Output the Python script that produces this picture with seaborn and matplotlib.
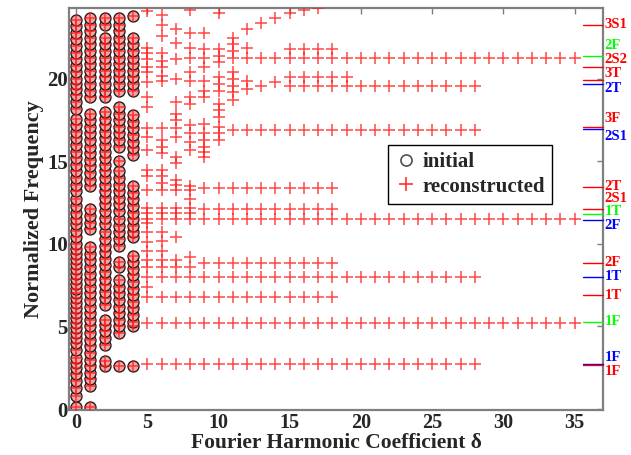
import matplotlib
matplotlib.use("Agg")
import matplotlib.pyplot as plt
from matplotlib.lines import Line2D
import seaborn as sns
import pandas as pd

# ------------------------------------------------------------------
#   data (delta = Fourier harmonic coefficient)
# ------------------------------------------------------------------

# initial frequencies, one list per delta (0..4)
init_d0 = [0.1, 0.8, 1.3, 1.7, 2.1, 2.5, 2.8, 3.1, 3.6, 4.0, 4.3, 4.6, 4.9, 5.2, 5.5, 5.8,
           6.1, 6.4, 6.7, 7.0, 7.3, 7.6, 7.9, 8.2, 8.5, 8.8, 9.1, 9.4, 9.7, 10.0, 10.4,
           10.8, 11.2, 11.5, 11.9, 12.3, 12.7, 13.2, 13.6, 14.0, 14.4, 14.8, 15.2, 15.6,
           16.0, 16.4, 16.8, 17.2, 17.6, 18.2, 18.6, 19.0, 19.4, 19.7, 20.0, 20.4, 20.8,
           21.2, 21.6, 22.0, 22.4, 22.8, 23.2, 23.6]
init_d1 = [0.1, 1.4, 1.8, 2.2, 2.6, 3.0, 3.4, 3.8, 4.2, 4.6, 5.0, 5.4, 5.8, 6.2, 6.6, 7.0,
           7.4, 7.8, 8.2, 8.6, 9.0, 9.4, 9.8, 10.9, 11.3, 11.7, 12.1, 13.5, 13.9, 14.3,
           14.7, 15.1, 15.5, 15.9, 16.3, 16.7, 17.1, 17.5, 17.9, 18.9, 19.3, 19.7, 20.1,
           20.5, 20.9, 21.3, 21.7, 22.1, 22.5, 22.9, 23.3, 23.7]
init_d2 = [2.6, 2.9, 3.9, 4.3, 4.7, 5.1, 5.4, 6.3, 6.7, 7.1, 7.5, 7.9, 8.3, 8.7, 9.1, 9.5,
           9.9, 10.3, 10.7, 11.2, 11.6, 12.0, 12.4, 12.8, 13.2, 13.6, 14.0, 14.4, 14.8,
           15.2, 15.6, 16.0, 16.4, 16.8, 17.2, 17.6, 18.0, 18.9, 19.3, 19.7, 20.1, 20.5,
           20.9, 21.3, 21.7, 22.1, 22.5, 23.3, 23.7]
init_d3 = [2.6, 4.6, 5.0, 5.4, 5.8, 6.2, 6.6, 7.0, 7.4, 7.8, 8.6, 8.9, 9.9, 10.3, 10.7,
           11.1, 11.5, 12.0, 12.4, 12.8, 13.2, 13.6, 14.0, 14.4, 15.0, 15.9, 16.3, 16.7,
           17.1, 17.5, 17.9, 18.3, 19.3, 19.7, 20.1, 20.5, 20.9, 21.3, 21.7, 22.1, 22.5,
           22.9, 23.3, 23.7]
init_d4 = [2.6, 5.0, 5.3, 5.7, 6.1, 6.5, 6.9, 7.3, 7.7, 8.1, 8.5, 8.9, 9.3, 10.4, 10.7,
           11.1, 11.5, 11.9, 12.3, 12.7, 13.1, 13.5, 15.4, 15.8, 16.2, 16.6, 17.0, 17.4,
           17.8, 19.3, 19.7, 20.1, 20.5, 20.9, 21.3, 21.7, 22.1, 22.5, 23.8]

# reconstructed frequencies for delta 5..19 (delta 0..4 coincide with the initial ones)
rec_d5 = [2.7, 5.2, 6.8, 7.4, 8.0, 8.6, 9.0, 9.6, 10.1, 10.7, 11.3, 11.5, 11.9, 12.2, 13.3,
          14.1, 14.5, 15.7, 16.5, 17.0, 18.3, 18.9, 19.8, 20.4, 20.7, 21.2, 21.6, 21.9, 24.1]
rec_d6 = [2.7, 5.2, 6.8, 8.0, 8.6, 9.0, 9.6, 10.2, 10.7, 11.5, 11.9, 12.2, 13.3, 13.7, 14.1,
          14.5, 15.5, 15.9, 16.3, 17.0, 19.9, 20.2, 20.7, 21.1, 21.6, 22.6, 23.3, 23.9]
rec_d7 = [2.7, 5.2, 6.8, 8.0, 8.6, 9.0, 10.4, 11.5, 11.9, 12.2, 13.3, 13.6, 13.9, 14.9, 15.3,
          16.5, 17.0, 17.5, 17.9, 18.6, 20.0, 21.2, 22.2, 23.0]
rec_d8 = [2.7, 5.2, 6.8, 8.0, 8.6, 9.2, 11.5, 11.9, 12.2, 12.7, 13.3, 13.5, 15.7, 16.2, 16.7,
          17.2, 18.5, 18.9, 19.9, 20.4, 21.3, 21.9, 22.8, 24.2]
rec_d9 = [2.7, 5.2, 6.8, 8.0, 8.85, 11.5, 12.1, 13.4, 15.3, 15.6, 15.9, 16.3, 16.7, 17.3,
          18.9, 19.3, 19.9, 20.7, 21.3, 21.8, 22.8]
rec_d10 = [2.7, 5.2, 6.8, 8.0, 8.85, 11.5, 12.1, 13.4, 16.3, 16.7, 17.1, 17.7, 18.1, 18.5,
           19.3, 19.7, 20.1, 21.0, 21.4, 21.8, 24.0]
rec_d11 = [2.7, 5.2, 6.8, 8.0, 8.85, 11.5, 12.1, 13.4, 16.9, 18.7, 19.2, 19.6, 20.0, 20.4,
           21.3, 21.7, 22.1, 22.5]
rec_d12 = [2.7, 5.2, 6.8, 8.0, 8.85, 11.5, 12.1, 13.4, 16.9, 19.4, 19.9, 21.3, 21.9, 23.0]
rec_d13 = [2.7, 5.2, 6.8, 8.0, 8.85, 11.5, 12.1, 13.4, 16.9, 19.6, 21.3, 23.4]
rec_d14 = [2.7, 5.2, 6.8, 8.0, 8.85, 11.5, 12.1, 13.4, 16.9, 19.8, 21.3, 23.7]
rec_d15 = [2.7, 5.2, 6.8, 8.0, 8.85, 11.5, 12.1, 13.4, 16.9, 19.6, 20.1, 21.3, 21.8, 24.0]
rec_d16 = [2.7, 5.2, 6.8, 8.0, 8.85, 11.5, 12.1, 13.4, 16.9, 19.6, 20.1, 21.3, 21.8, 24.15]
rec_d17 = [2.7, 5.2, 6.8, 8.0, 8.85, 11.5, 12.1, 13.4, 16.9, 19.6, 20.1, 21.3, 21.8, 24.3]
rec_d18 = [2.7, 5.2, 6.8, 8.0, 8.85, 11.5, 12.1, 13.4, 16.9, 19.6, 20.1, 21.3, 21.8]
rec_d19 = [2.7, 5.2, 8.0, 11.5, 16.9, 19.6, 20.1, 21.3]

# converged rows for delta >= 20 : frequency and last delta where it still appears
conv_freq = [2.7, 5.2, 8.0, 11.5, 16.9, 19.6, 21.3]
conv_last = [28, 35, 28, 35, 28, 28, 35]
DELTA_MAX = 35

# normal modes marked on the right border
mode_freq = [23.3, 21.4, 20.7, 19.95, 19.7, 17.1, 16.95, 13.45, 12.1, 11.8, 11.45,
             8.85, 8.0, 6.9, 5.3, 2.75, 2.65]
mode_label = ["3S1", "2F", "2S2", "3T", "2T", "3F", "2S1", "2T", "2S1", "1T", "2F",
              "2F", "1T", "1T", "1F", "1F", "1F"]
mode_color = ["red", "lime", "red", "red", "blue", "red", "blue", "red", "red", "lime", "blue",
              "red", "blue", "red", "lime", "blue", "red"]
mode_text_y = [23.3, 22.05, 21.2, 20.35, 19.45, 17.6, 16.5, 13.5, 12.75, 11.95, 11.1,
               8.85, 8.0, 6.9, 5.3, 3.15, 2.25]


# --------------------------------------------------------
#       BUILD THE FRAMES
# --------------------------------------------------------

init_cols = [init_d0, init_d1, init_d2, init_d3, init_d4]
rec_cols = init_cols + [rec_d5, rec_d6, rec_d7, rec_d8, rec_d9, rec_d10, rec_d11, rec_d12,
                        rec_d13, rec_d14, rec_d15, rec_d16, rec_d17, rec_d18, rec_d19]

rows = []
for d, col in enumerate(init_cols):
    for f in col:
        rows.append((d, f))
pd_init = pd.DataFrame(rows, columns=["delta", "freq"])

rows = []
for d, col in enumerate(rec_cols):
    for f in col:
        rows.append((d, f))
for d in range(len(rec_cols), DELTA_MAX + 1):
    for f, last in zip(conv_freq, conv_last):
        if d <= last:
            rows.append((d, f))
pd_rec = pd.DataFrame(rows, columns=["delta", "freq"])


# --------------------------------------------------------
#       PLOT
# --------------------------------------------------------

sns.set_theme(style="white")
plt.rcParams["font.family"] = ["Liberation Serif", "DejaVu Serif"]
plt.rcParams["font.weight"] = "bold"

fig = plt.figure(figsize=(6.31, 4.55), dpi=100)
ax = fig.add_axes([0.1094, 0.0989, 0.8462, 0.8835])

sns.scatterplot(data=pd_init, x="delta", y="freq", marker="o", s=62,
                facecolor="#f2a6a6", edgecolor="#202020", linewidth=1.0,
                legend=False, ax=ax, zorder=2)
sns.scatterplot(data=pd_rec, x="delta", y="freq", marker="+", s=80,
                color="#ff1a1a", linewidth=1.1, alpha=0.8,
                legend=False, ax=ax, zorder=3)

ax.set_xlim(-0.5, 37)
ax.set_ylim(-0.06, 24.3)
ax.set_xticks(range(0, 36, 5))
ax.set_yticks(range(0, 21, 5))

for side in ["left", "right", "top", "bottom"]:
    ax.spines[side].set_color("#7f7f7f")
    ax.spines[side].set_linewidth(1.6)
ax.tick_params(direction="in", length=4, width=1, color="#7f7f7f",
               top=True, right=True, labelsize=15)
ax.tick_params(axis="x", pad=2, labelsize=14.5)
ax.tick_params(axis="y", pad=1)
for lab in ax.get_xticklabels() + ax.get_yticklabels():
    lab.set_fontweight("bold")

ax.set_xlabel("Fourier Harmonic Coefficient δ", fontsize=15.5, fontweight="bold", labelpad=0)
ax.set_ylabel("Normalized Frequency", fontsize=16, fontweight="bold", labelpad=2)

# mode markers on the right border
for f, lab, c, ty in zip(mode_freq, mode_label, mode_color, mode_text_y):
    ax.plot([35.6, 37], [f, f], color=c, linewidth=1.0, clip_on=False, zorder=4)
    ax.text(37.1, ty, lab, color=c, fontsize=10.5, fontweight="bold",
            ha="left", va="center", clip_on=False)

handles = [Line2D([], [], linestyle="none", marker="o", markersize=8,
                  markerfacecolor="none", markeredgecolor="#505050", markeredgewidth=1.2),
           Line2D([], [], linestyle="none", marker="+", markersize=10,
                  color="#ff3030", markeredgewidth=1.2)]
leg = ax.legend(handles, ["initial", "reconstructed"], loc="upper left",
                bbox_to_anchor=(0.597, 0.659), borderaxespad=0, frameon=True,
                fancybox=False, edgecolor="black", framealpha=1,
                handletextpad=0.3, borderpad=0.35, labelspacing=0.2, handlelength=1.0,
                prop={"weight": "bold", "size": 15})
leg.get_frame().set_linewidth(1.0)

fig.savefig("out.png", dpi=100)
